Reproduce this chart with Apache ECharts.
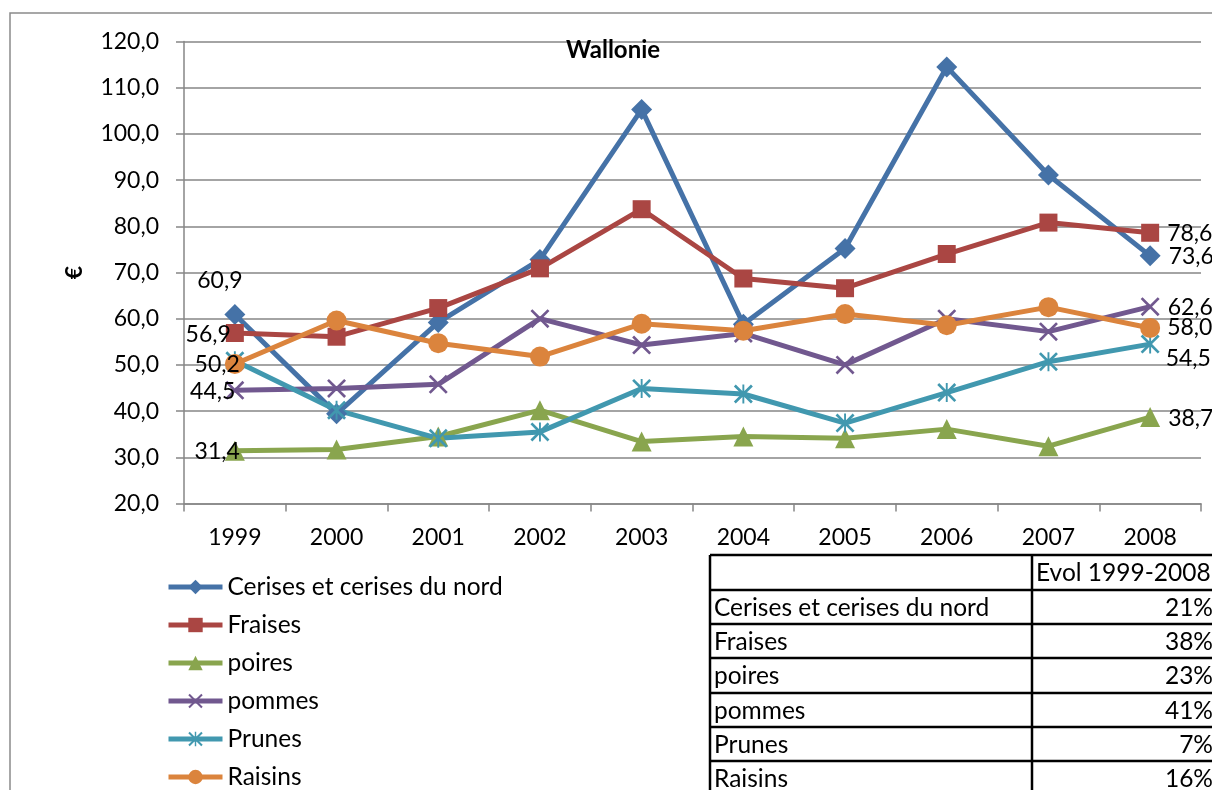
<!DOCTYPE html>
<html><head><meta charset="utf-8">
<script src="https://cdn.jsdelivr.net/npm/echarts@6/dist/echarts.min.js"></script>
<style>html,body{margin:0;padding:0;background:#fff}#c{width:1212px;height:790px}</style>
</head><body><div id="c"></div>
<script>
// ---------- DATA ----------
const years = ['1999','2000','2001','2002','2003','2004','2005','2006','2007','2008'];
const seriesNames = ['Cerises et cerises du nord','Fraises','poires','pommes','Prunes','Raisins'];
const cerises = [60.9, 39.4, 59.2, 72.8, 105.3, 58.8, 75.2, 114.5, 91.1, 73.6];
const fraises = [56.9, 56.1, 62.3, 70.9, 83.7, 68.7, 66.6, 74.0, 80.8, 78.6];
const poires  = [31.4, 31.7, 34.5, 40.2, 33.4, 34.5, 34.1, 36.1, 32.4, 38.7];
const pommes  = [44.5, 44.9, 45.8, 60.0, 54.3, 56.8, 50.0, 60.0, 57.2, 62.6];
const prunes  = [50.9, 40.2, 34.1, 35.5, 44.9, 43.7, 37.4, 44.0, 50.7, 54.5];
const raisins = [50.2, 59.6, 54.7, 51.8, 58.9, 57.4, 61.0, 58.6, 62.5, 58.0];
const tableHeader = 'Evol 1999-2008';
const evolLabels = ['21%','38%','23%','41%','7%','16%'];
const chartTitle = 'Wallonie';
const yName = '€';

// ---------- STYLE ----------
const FONT = 'Lato';
const colors = ['#4572A7','#AA4643','#89A54E','#71588F','#4198AF','#DB843D'];
const xPath = 'path://M0,1L1,0L5,4L9,0L10,1L6,5L10,9L9,10L5,6L1,10L0,9L4,5Z';
const starPath = 'path://M0,1L1,0L5,4L9,0L10,1L6,5L10,9L9,10L5,6L1,10L0,9L4,5ZM4.5,0L5.5,0L5.5,10L4.5,10Z';
const symbols = ['diamond','rect','triangle', xPath, starPath, 'circle'];
const sizes = [21, 18, 20, 19, 19, 20];
const firstLabelCfg = [
  {position:'top', offset:[-15,-7]},
  {position:'left', offset:[10,2]},
  {position:'left', offset:[20,1]},
  {position:'left', offset:[15,1]},
  null,
  {position:'left', offset:[20,1]}
];
const lastLabelCfg = [
  {position:'right', offset:[3,1]},
  {position:'right', offset:[3,1]},
  {position:'right', offset:[3,1]},
  {position:'right', offset:[3,1]},
  {position:'right', offset:[1,14]},
  {position:'right', offset:[2,0]}
];
const fmt = v => (typeof v === 'number' ? v : Number(v)).toFixed(1).replace('.', ',');
const allData = [cerises, fraises, poires, pommes, prunes, raisins];

const labelBase = {show:true, fontFamily:FONT, fontSize:23, color:'#000', distance:5,
  formatter: p => fmt(p.value)};

const series = allData.map((arr, si) => ({
  name: seriesNames[si],
  type: 'line',
  symbol: symbols[si],
  symbolSize: sizes[si],
  showAllSymbol: true,
  lineStyle: {width:5, color: colors[si]},
  itemStyle: {color: colors[si]},
  label: {show:false},
  emphasis: {disabled:true},
  animation: false,
  data: arr.map((v, i) => {
    let cfg = null;
    if (i === 0) cfg = firstLabelCfg[si];
    if (i === arr.length - 1) cfg = lastLabelCfg[si];
    return cfg ? {value: v, label: Object.assign({}, labelBase, cfg)} : v;
  })
}));

// ---------- TABLE (graphic) ----------
const tX0 = 710, tX1 = 1032, tXR = 1250;
const rowY = [555, 590, 624, 658, 693, 727, 761];
const TFONT = '24.5px Lato';
const tableEls = [];
rowY.forEach(y => tableEls.push({type:'line', shape:{x1:tX0, y1:y, x2:tXR, y2:y}, style:{stroke:'#000', lineWidth:2.5}}));
[tX0, tX1].forEach(x => tableEls.push({type:'line', shape:{x1:x, y1:rowY[0], x2:x, y2:800}, style:{stroke:'#000', lineWidth:2.5}}));
tableEls.push({type:'text', x:1036, y:(rowY[0]+rowY[1])/2 + 1, style:{text:tableHeader, font:TFONT, fill:'#000', verticalAlign:'middle'}});
seriesNames.forEach((n, i) => {
  const yMid = i + 2 < rowY.length ? (rowY[i+1] + rowY[i+2]) / 2 : rowY[i+1] + 17;
  tableEls.push({type:'text', x:714, y:yMid + 1, style:{text:n, font:TFONT, fill:'#000', verticalAlign:'middle'}});
  tableEls.push({type:'text', x:1213, y:yMid + 1, style:{text:evolLabels[i], font:TFONT, fill:'#000', align:'right', verticalAlign:'middle'}});
});

const chart = echarts.init(document.getElementById('c'), null, {renderer:'canvas'});
chart.setOption({
  animation: false,
  backgroundColor: '#fff',
  color: colors,
  title: {text: chartTitle, left: 566, top: 38, padding: 0,
    textStyle:{fontFamily:FONT, fontSize:24, fontWeight:'bold', color:'#000'}},
  legend: {
    orient:'vertical', left:166, top:573, height:300, itemWidth:54, itemHeight:18, itemGap:10,
    padding:0, data: seriesNames,
    lineStyle:{width:5},
    textStyle:{fontFamily:FONT, fontSize:24.5, color:'#000', lineHeight:28}
  },
  grid: {left:184, right:11, top:41.5, bottom:286.5, containLabel:false},
  xAxis: {
    type:'category', data: years, boundaryGap:true,
    axisLine:{lineStyle:{color:'#868686', width:1.5}},
    axisTick:{show:true, length:8, lineStyle:{color:'#868686', width:1.5}},
    axisLabel:{fontFamily:FONT, fontSize:23, color:'#000', margin:23}
  },
  yAxis: {
    type:'value', min:20, max:120, interval:10,
    name: yName, nameLocation:'middle', nameRotate:90, nameGap:98,
    nameTextStyle:{fontFamily:FONT, fontSize:23, fontWeight:'bold', color:'#000'},
    axisLine:{show:true, lineStyle:{color:'#868686', width:1.5}},
    axisTick:{show:true, length:8, lineStyle:{color:'#868686', width:1.5}},
    splitLine:{show:true, lineStyle:{color:'#868686', width:1.5}},
    axisLabel:{fontFamily:FONT, fontSize:23, color:'#000', margin:25, formatter: v => fmt(v)}
  },
  graphic: [
    {type:'polyline', shape:{points:[[10,800],[10,13],[1220,13]]}, style:{stroke:'#8a8a8a', lineWidth:1.5, fill:null}, silent:true},
    {type:'group', children: tableEls, silent:true}
  ],
  series: series
});
</script>
</body></html>
